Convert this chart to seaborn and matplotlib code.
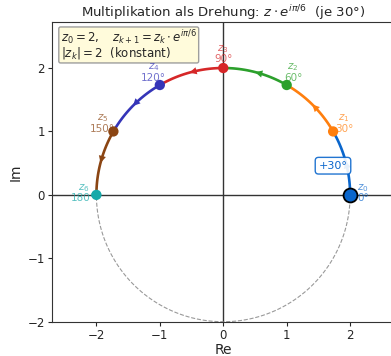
import numpy as np
import pandas as pd
import matplotlib
matplotlib.use('Agg')
import matplotlib.pyplot as plt
import seaborn as sns

# DATA
radius = 2
angles_deg = [0, 30, 60, 90, 120, 150, 180]
point_labels = ['$z_0$', '$z_1$', '$z_2$', '$z_3$', '$z_4$', '$z_5$', '$z_6$']
angle_labels = ['0°', '30°', '60°', '90°', '120°', '150°', '180°']
colors = ['#0a66cc', '#ff7f0e', '#2ca02c', '#d62728', '#3535b8', '#8b4513', '#17a9a9']

sns.set_style('ticks')
plt.rcParams['font.family'] = ['DejaVu Sans']

fig = plt.figure(figsize=(3.91, 3.56), dpi=100)
ax = fig.add_axes([0.133, 0.0955, 0.876, 0.8425])

# dashed full circle
t = np.linspace(0, 2 * np.pi, 361)
ax.plot(radius * np.cos(t), radius * np.sin(t), ls='--', color='gray', lw=0.8, alpha=0.8, zorder=1)

ax.axhline(0, color='#333333', lw=1, zorder=0)
ax.axvline(0, color='#333333', lw=1, zorder=0)

# arcs between consecutive points
for k in range(len(angles_deg) - 1):
    a0, a1 = np.deg2rad(angles_deg[k]), np.deg2rad(angles_deg[k + 1])
    th = np.linspace(a0, a1, 40)
    arc = pd.DataFrame({'x': radius * np.cos(th), 'y': radius * np.sin(th)})
    sns.lineplot(data=arc, x='x', y='y', sort=False, color=colors[k], lw=1.9, ax=ax, zorder=2)
    # arrow head in the middle
    am = (a0 + a1) / 2
    ax.annotate('', xy=(radius * np.cos(am + 0.03), radius * np.sin(am + 0.03)),
                xytext=(radius * np.cos(am - 0.03), radius * np.sin(am - 0.03)),
                arrowprops=dict(arrowstyle='-|>', color=colors[k], lw=0, mutation_scale=13),
                zorder=3)

# points
pts = pd.DataFrame({
    'x': [radius * np.cos(np.deg2rad(a)) for a in angles_deg],
    'y': [radius * np.sin(np.deg2rad(a)) for a in angles_deg],
    'k': range(len(angles_deg)),
})
sns.scatterplot(data=pts.iloc[1:], x='x', y='y', hue='k', palette=colors[1:], s=55,
                edgecolor='none', legend=False, ax=ax, zorder=4)
sns.scatterplot(data=pts.iloc[:1], x='x', y='y', color=colors[0], s=100,
                edgecolor='black', linewidth=1.3, legend=False, ax=ax, zorder=5)

# labels
for k, a in enumerate(angles_deg):
    r = 2.2
    lx = r * np.cos(np.deg2rad(a))
    ly = r * np.sin(np.deg2rad(a)) + 0.03
    ax.text(lx, ly, point_labels[k] + '\n' + angle_labels[k], color=colors[k], alpha=0.7,
            fontsize=7.5, ha='center', va='center', linespacing=0.9, zorder=8)

ax.text(1.73, 0.46, '+30°', color=colors[0], fontsize=8, ha='center', va='center',
        bbox=dict(boxstyle='round,pad=0.3', fc='white', ec=colors[0], alpha=0.9), zorder=6)

ax.text(0.025, 0.98, '$z_0 = 2,\\quad z_{k+1} = z_k\\cdot e^{i\\pi/6}$\n$|z_k| = 2$  (konstant)',
        transform=ax.transAxes, fontsize=8.5, ha='left', va='top', linespacing=0.9,
        bbox=dict(boxstyle='round,pad=0.15', fc='#fffbd9', ec='#999999', alpha=0.95), zorder=7)

ax.set_xlim(-2.7, 2.7)
ax.set_ylim(-2.0, 2.72)
ax.set_aspect('equal')
ax.set_xticks([-2, -1, 0, 1, 2])
ax.set_yticks([-2, -1, 0, 1, 2])
ax.tick_params(labelsize=8.5, length=3, pad=2)
ax.set_xlabel('Re', fontsize=10, labelpad=1)
ax.set_ylabel('Im', fontsize=10)
ax.set_title('Multiplikation als Drehung: $z\\cdot e^{i\\pi/6}$  (je 30°)', fontsize=9.5, pad=4)
for s in ax.spines.values():
    s.set_color('#333333')

fig.savefig('out.png', dpi=100)
